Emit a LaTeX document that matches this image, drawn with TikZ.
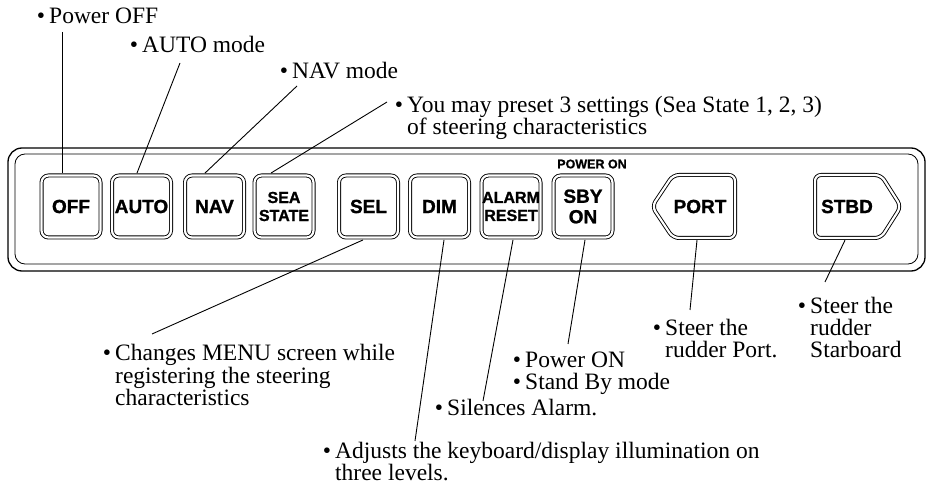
\documentclass[tikz,border=0pt]{standalone}
\usepackage{fontspec}
\newfontfamily\annf{Liberation Serif}
\newfontfamily\keyf{Liberation Sans}[BoldFeatures={FakeBold=1.2}]
\usetikzlibrary{calc}
\begin{document}
\begin{tikzpicture}[x=1pt,y=-1pt,
  ann/.style={font=\annf\fontsize{23.5}{23.5}\selectfont, anchor=base west, inner sep=0pt},
  keybox/.style={draw, line width=0.9pt, double, double distance=2.2pt, rounded corners=7pt,
    minimum width=59pt, minimum height=62pt, inner sep=0pt,
    font=\keyf\bfseries\fontsize{19}{20.5}\selectfont, align=center},
  keysmall/.style={font=\keyf\bfseries\fontsize{16}{18}\selectfont},
  keyshape/.style={draw, line width=0.9pt, double, double distance=2.2pt, rounded corners=6pt},
  keylabel/.style={font=\keyf\bfseries\fontsize{19}{20}\selectfont, inner sep=0pt},
  lead/.style={line width=0.9pt},
  panel/.style={line width=1.3pt}]
\useasboundingbox (0,0) rectangle (930,497);

% panel
\draw[panel, rounded corners=14pt] (8,148) rectangle (925,271);
\draw[line width=0.8pt, rounded corners=10pt] (15,154) rectangle (918,264);

% keys
\node[keybox] (off) at (71,206.5) {OFF};
\node[keybox] (auto) at (141.5,206.5) {AUTO};
\node[keybox] (nav) at (214.5,206.5) {NAV};
\node[keybox, keysmall] (sea) at (284,206.5) {SEA\\STATE};
\node[keybox] (sel) at (368.5,206.5) {SEL};
\node[keybox] (dim) at (439.5,206.5) {DIM};
\node[keybox, keysmall] (alarm) at (511,206.5) {ALARM\\RESET};
\node[keybox] (sby) at (583,206.5) {SBY\\ON};
\node[font=\keyf\bfseries\fontsize{12.5}{13}\selectfont, inner sep=0pt] (pwr) at (592,164) {POWER ON};

\draw[keyshape] (673,175) -- (735,175) -- (735,238) -- (673,238) -- (652,206.5) -- cycle;
\node[keylabel, minimum width=64pt, minimum height=67pt] (port) at (704,206.5) {\hspace*{-8pt}PORT};
\draw[keyshape] (815,175) -- (881,175) -- (901,206.5) -- (881,238) -- (815,238) -- cycle;
\node[keylabel, minimum width=68pt, minimum height=67pt] (stbd) at (847,206.5) {STBD};

% annotations
\node[ann] (tOff) at (49,24) {\llap{•\hspace{4pt}}Power OFF};
\node[ann] (tAuto) at (142,53) {\llap{•\hspace{4pt}}AUTO mode};
\node[ann] (tNav) at (292,79) {\llap{•\hspace{4pt}}NAV mode};
\node[ann] (tSea1) at (407,113) {\llap{•\hspace{4pt}}You may preset 3 settings (Sea State 1, 2, 3)};
\node[ann] (tSea2) at (407,135) {of steering characteristics};
\node[ann] (tSel1) at (115,361) {\llap{•\hspace{4pt}}Changes MENU screen while};
\node[ann] (tSel2) at (115,383) {registering the steering};
\node[ann] (tSel3) at (115,405) {characteristics};
\node[ann] (tSby1) at (525,367) {\llap{•\hspace{4pt}}Power ON};
\node[ann] (tSby2) at (525,389) {\llap{•\hspace{4pt}}Stand By mode};
\node[ann] (tAlarm) at (447,415) {\llap{•\hspace{4pt}}Silences Alarm.};
\node[ann] (tDim1) at (335,458) {\llap{•\hspace{4pt}}Adjusts the keyboard/display illumination on};
\node[ann] (tDim2) at (335,480) {three levels.};
\node[ann] (tPort1) at (665,336) {\llap{•\hspace{4pt}}Steer the};
\node[ann] (tPort2) at (665,358) {rudder Port.};
\node[ann] (tStbd1) at (810,314) {\llap{•\hspace{4pt}}Steer the};
\node[ann] (tStbd2) at (810,336) {rudder};
\node[ann] (tStbd3) at (810,358) {Starboard};

% leader ends
\coordinate (eOff) at (62,32);
\coordinate (eAuto) at (180,63);
\coordinate (eNav) at (297,86);
\coordinate (eSea) at (387,102);
\coordinate (eSel) at (152,334);
\coordinate (eDim) at (415,441);
\coordinate (eAlarm) at (483,401);
\coordinate (eSby) at (568,344);
\coordinate (ePort) at (690,310);
\coordinate (eStbd) at (825,282);

\draw[lead] (eOff) -- ($(off.north)+(-9,-2)$);
\draw[lead] (eAuto) -- ($(auto.north)+(-4.5,-2)$);
\draw[lead] (eNav) -- ($(nav.north)+(-9.5,-2)$);
\draw[lead] (eSea) -- ($(sea.north)+(-13,-2)$);
\draw[lead] ($(sel.south)+(-5.5,2)$) -- (eSel);
\draw[lead] ($(dim.south)+(4.5,2)$) -- (eDim);
\draw[lead] ($(alarm.south)+(2,2)$) -- (eAlarm);
\draw[lead] ($(sby.south)+(2,2)$) -- (eSby);
\draw[lead] ($(port.south)+(-7,0)$) -- (ePort);
\draw[lead] ($(stbd.south)+(-2,0)$) -- (eStbd);
\end{tikzpicture}
\end{document}
